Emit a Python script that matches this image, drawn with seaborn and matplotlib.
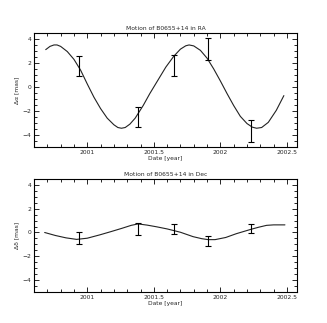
import numpy as np
import pandas as pd
import matplotlib
matplotlib.use("Agg")
import matplotlib.pyplot as plt
from matplotlib.ticker import MultipleLocator
import seaborn as sns

# ---- data ----
ra_curve_t = [2000.688, 2000.720, 2000.750, 2000.773, 2000.800, 2000.850, 2000.900, 2000.950,
              2001.000, 2001.050, 2001.100, 2001.150, 2001.200, 2001.230, 2001.257, 2001.285,
              2001.320, 2001.360, 2001.420, 2001.470, 2001.530, 2001.590, 2001.650, 2001.700,
              2001.740, 2001.765, 2001.800, 2001.850, 2001.900, 2001.950, 2002.000, 2002.050,
              2002.100, 2002.150, 2002.200, 2002.240, 2002.272, 2002.310, 2002.360, 2002.420,
              2002.477]
ra_curve_v = [3.11, 3.38, 3.50, 3.50, 3.38, 2.95, 2.30, 1.40,
              0.25, -0.85, -1.80, -2.60, -3.15, -3.38, -3.44, -3.38,
              -3.10, -2.60, -1.55, -0.55, 0.55, 1.65, 2.56, 3.15,
              3.43, 3.50, 3.42, 3.05, 2.40, 1.50, 0.50, -0.55,
              -1.55, -2.45, -3.05, -3.35, -3.44, -3.38, -2.95, -1.95,
              -0.72]

ra_obs_t = [2000.936, 2001.382, 2001.650, 2001.906, 2002.229]
ra_obs_v = [1.75, -2.48, 1.80, 3.15, -3.67]
ra_obs_e = [0.85, 0.85, 0.90, 0.90, 0.90]

dec_curve_t = [2000.680, 2000.760, 2000.840, 2000.920, 2001.000, 2001.094, 2001.180, 2001.260,
               2001.330, 2001.382, 2001.450, 2001.520, 2001.600, 2001.700, 2001.795, 2001.860,
               2001.908, 2001.960, 2002.040, 2002.120, 2002.180, 2002.234, 2002.290, 2002.347,
               2002.400, 2002.485]
dec_curve_v = [0.00, -0.25, -0.45, -0.58, -0.48, -0.20, 0.08, 0.35,
               0.60, 0.72, 0.62, 0.48, 0.30, 0.02, -0.35, -0.52,
               -0.60, -0.60, -0.42, -0.10, 0.10, 0.28, 0.45, 0.60,
               0.64, 0.64]

dec_obs_t = [2000.936, 2001.382, 2001.650, 2001.906, 2002.229]
dec_obs_v = [-0.43, 0.30, 0.30, -0.72, 0.35]
dec_obs_e = [0.50, 0.50, 0.41, 0.45, 0.37]

titles = ["Motion of B0655+14 in RA", "Motion of B0655+14 in Dec"]
ylabels = ["Δα [mas]", "Δδ [mas]"]
xlabel = "Date [year]"
xticks = [2001, 2001.5, 2002, 2002.5]
xticklabels = ["2001", "2001.5", "2002", "2002.5"]
yticks = [-4, -2, 0, 2, 4]

sns.set_style("ticks")
plt.rcParams['font.family'] = ['DejaVu Sans']

fig = plt.figure(figsize=(3.27, 3.23), dpi=100)
ax1 = fig.add_axes([0.104, 0.545, 0.804, 0.353])
ax2 = fig.add_axes([0.104, 0.096, 0.804, 0.350])

panels = [
    (ax1, ra_curve_t, ra_curve_v, ra_obs_t, ra_obs_v, ra_obs_e),
    (ax2, dec_curve_t, dec_curve_v, dec_obs_t, dec_obs_v, dec_obs_e),
]

fs = 4.3
for i, (ax, ct, cv, ot, ov, oe) in enumerate(panels):
    df = pd.DataFrame({"t": ct, "v": cv})
    sns.lineplot(data=df, x="t", y="v", ax=ax, color="#222222", linewidth=0.8)
    ax.errorbar(ot, ov, yerr=oe, fmt="none", ecolor="black", elinewidth=0.8,
                capsize=2.2, capthick=0.8)
    ax.set_xlim(2000.60, 2002.575)
    ax.set_ylim(-5, 4.5)
    ax.set_xticks(xticks)
    ax.set_xticklabels(xticklabels)
    ax.set_yticks(yticks)
    ax.xaxis.set_minor_locator(MultipleLocator(0.1))
    ax.yaxis.set_minor_locator(MultipleLocator(0.5))
    ax.tick_params(which="both", direction="in", top=True, right=True,
                   labelsize=fs, width=0.7, pad=2)
    ax.tick_params(which="major", length=3.5)
    ax.tick_params(which="minor", length=2)
    for s in ax.spines.values():
        s.set_linewidth(0.8)
        s.set_color("black")
    ax.set_title(titles[i], fontsize=fs, pad=2)
    ax.set_xlabel(xlabel, fontsize=fs, labelpad=1)
    ax.set_ylabel(ylabels[i], fontsize=fs, labelpad=2)

fig.savefig("out.png", dpi=100, facecolor="white")
